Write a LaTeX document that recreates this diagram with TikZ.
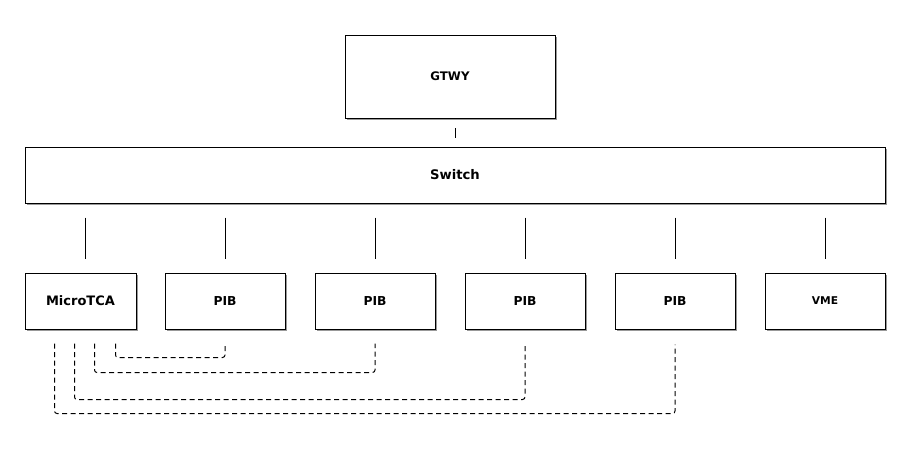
\documentclass[tikz,border=0pt]{standalone}
\usepackage{fontspec}
\setmainfont{DejaVu Sans}
\usetikzlibrary{shadows,calc}
\tikzset{
  unitbox/.style={draw=black, line width=1pt, fill=white, inner sep=0pt,
    minimum height=56pt,
    drop shadow={shadow xshift=1.6pt, shadow yshift=-1.6pt, fill=black, opacity=0.4}},
  lbl/.style={font=\bfseries\fontsize{#1}{#1}\selectfont},
  solidlink/.style={draw=black, line width=1pt},
  dashlink/.style={draw=black, line width=1pt, dash pattern=on 5pt off 3.5pt, rounded corners=2.5pt}
}
\begin{document}
\begin{tikzpicture}[x=1pt,y=-1pt]
\useasboundingbox (0,0) rectangle (910,448);
\fill[white] (0,0) rectangle (910,448);

\node[unitbox, lbl=11.8, minimum width=210pt, minimum height=83pt] (gtwy) at (450,76.5) {GTWY};
\node[unitbox, lbl=13.2, minimum width=860pt] (switch) at (455,175) {Switch};

\node[unitbox, lbl=13, minimum width=111pt] (micro) at (80.5,301) {MicroTCA};
\node[unitbox, lbl=12.3, minimum width=120pt] (pib1) at (225,301) {PIB};
\node[unitbox, lbl=12.3, minimum width=120pt] (pib2) at (375,301) {PIB};
\node[unitbox, lbl=12.3, minimum width=120pt] (pib3) at (525,301) {PIB};
\node[unitbox, lbl=12.3, minimum width=120pt] (pib4) at (675,301) {PIB};
\node[unitbox, lbl=10.7, minimum width=120pt] (vme) at (825,301) {VME};

% switch to gateway
\draw[solidlink, shorten <=9pt, shorten >=9pt] (switch.north) -- (switch.north |- gtwy.south);

% switch to lower boxes
\coordinate (mtop) at ([xshift=4.8pt]micro.north);
\foreach \t in {mtop, pib1.north, pib2.north, pib3.north, pib4.north, vme.north}{
  \draw[solidlink, shorten <=14pt, shorten >=14pt] (switch.south -| \t) -- (\t);
}

% dashed links from MicroTCA to the PIBs
\draw[dashlink] ($(micro.south west)+(91,14)$) |- ($(pib1.south)+(0,28)$) -- ($(pib1.south)+(0,14)$);
\draw[dashlink] ($(micro.south west)+(70,14)$) |- ($(pib2.south)+(0,43)$) -- ($(pib2.south)+(0,14)$);
\draw[dashlink] ($(micro.south west)+(50,14)$) |- ($(pib3.south)+(0,70)$) -- ($(pib3.south)+(0,15)$);
\draw[dashlink] ($(micro.south west)+(30,14)$) |- ($(pib4.south)+(0,84)$) -- ($(pib4.south)+(0,15)$);
\end{tikzpicture}
\end{document}
